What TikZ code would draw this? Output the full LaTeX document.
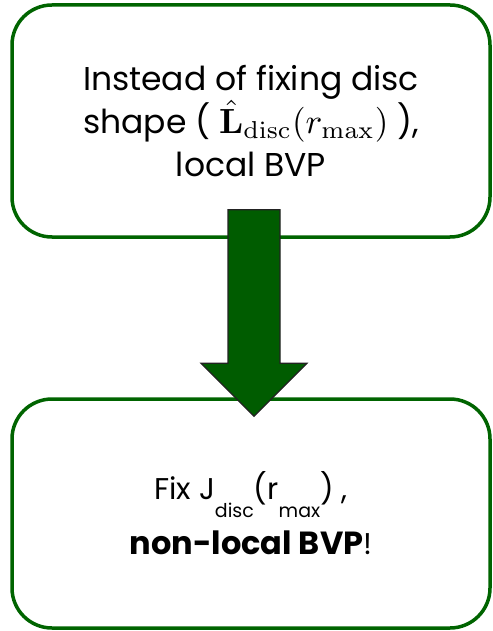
\documentclass[tikz,border=0pt]{standalone}
\usepackage[no-math]{fontspec}
\usepackage{graphicx}
\setmainfont{Poppins}
\usetikzlibrary{calc}
\definecolor{boxgreen}{RGB}{0,100,0}
\definecolor{arrowgreen}{RGB}{0,92,0}
\definecolor{arrowedge}{RGB}{34,34,34}
\newcommand{\lowsub}[1]{\raisebox{-0.58em}{\fontsize{19}{19}\selectfont #1}}
\newcommand{\bigmath}[1]{\scalebox{3.5}{\fontsize{10}{12}\selectfont$#1$}}
\tikzset{
  stagebox/.style={draw=boxgreen, line width=3.5pt, rounded corners=40pt,
    fill=white, align=center, inner sep=0pt},
  blockarrow/.style={fill=arrowgreen, draw=arrowedge, line width=1.2pt, line join=miter}
}
\begin{document}
\begin{tikzpicture}[x=1pt, y=-1pt]
  \useasboundingbox (0,0) rectangle (492,631);
  % first stage
  \node[stagebox, minimum width=478pt, minimum height=232pt,
        font=\fontsize{33}{43}\selectfont] (top) at (251,121)
    {Instead of fixing disc\\
     shape ( \bigmath{\hat{\mathbf{L}}_{\mathrm{disc}}(r_{\max})} ),\\
     local BVP};
  % second stage
  \node[stagebox, minimum width=478pt, minimum height=229pt,
        font=\fontsize{30}{55}\selectfont] (bottom) at (251,513.5)
    {Fix J\lowsub{disc}(r\lowsub{max}) ,\\
     {\fontsize{32}{55}\selectfont\bfseries non-local BVP}!};
  % block arrow from the first stage to the second
  \coordinate (start) at ($(top.south)+(3,-29)$);
  \coordinate (tip) at ($(bottom.north)+(3,19)$);
  \draw[blockarrow]
    ($(start)+(-26,0)$) -- ($(start)+(26,0)$) -- ($(tip)+(26,-53)$)
    -- ($(tip)+(53,-53)$) -- (tip) -- ($(tip)+(-53,-53)$)
    -- ($(tip)+(-26,-53)$) -- cycle;
\end{tikzpicture}
\end{document}
